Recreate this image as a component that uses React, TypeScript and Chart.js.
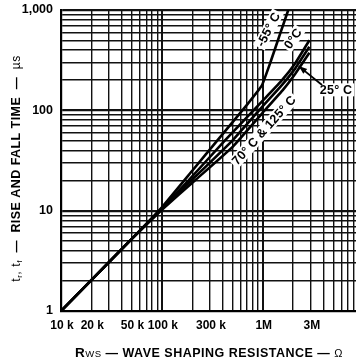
import React, { useEffect, useRef } from 'react';
import { Chart, registerables } from 'chart.js';

Chart.register(...registerables);

// ---- axes ----
const X_MIN = 1e4;
const X_MAX = 8.4e6;
const Y_MIN = 1;
const Y_MAX = 1000;
const X_TICK_VALUES = [1e4, 2e4, 5e4, 1e5, 3e5, 1e6, 3e6];
const X_TICK_LABELS = ['10 k', '20 k', '50 k', '100 k', '300 k', '1M', '3M'];
const Y_TICK_VALUES = [1, 10, 100, 1000];
const Y_TICK_LABELS = ['1', '10', '100', '1,000'];

// ---- series (R in ohms, t in microseconds) ----
const R_M55 = [1e4, 5e4, 1e5, 2e5, 4e5, 7e5, 9.8e5, 1.18e6, 1.49e6, 1.79e6];
const T_M55 = [1, 5.2, 10.8, 25, 58, 114, 177, 293, 584, 1000];

const R_0C = [1e4, 5e4, 1e5, 1.84e5, 4.2e5, 1e6, 1.5e6, 2.1e6, 2.9e6];
const T_0C = [1, 5.2, 10.6, 20, 50, 125, 192, 295, 500];

const R_25C = [1e4, 5e4, 1e5, 2e5, 5e5, 1e6, 1.5e6, 2.1e6, 2.9e6];
const T_25C = [1, 5.2, 10.4, 20.4, 50, 110, 172, 262, 430];

const R_70C = [1e4, 5e4, 1e5, 2.15e5, 5e5, 1e6, 1.6e6, 2.1e6, 2.9e6];
const T_70C = [1, 5.2, 10.2, 20.2, 43, 95, 162, 232, 375];

// ---- curve labels (anchored in data space) ----
const LABEL_TEXTS = ['-55° C', '0°C', '70° C & 125° C', '25° C'];
const LABEL_R = [1.14e6, 2.0e6, 1.03e6, 5.33e6];
const LABEL_T = [640, 520, 63.2, 160];
const LABEL_ANGLES = [-62, -56, -48, 0];
const ARROW_FROM = { r: 3.87e6, t: 179 };
const ARROW_TO = { r: 2.27e6, t: 276 };

function decadeGrid(min: number, max: number): number[] {
  const out: number[] = [];
  for (let e = Math.floor(Math.log10(min)); e <= Math.ceil(Math.log10(max)); e++) {
    for (let m = 1; m <= 9; m++) {
      const v = Math.round(m * Math.pow(10, e) * 1e6) / 1e6;
      if (v >= min - 1e-9 && v <= max + 1e-9) out.push(v);
    }
  }
  return out;
}

const isDecade = (v: number) => Math.abs(Math.log10(v) - Math.round(Math.log10(v))) < 1e-6;

const FONT = '"Liberation Sans", Arial, Helvetica, sans-serif';

const toPts = (r: number[], t: number[]) => r.map((x, i) => ({ x, y: t[i] }));

function drawSegments(ctx: CanvasRenderingContext2D, segs: { t: string; f: string; dy?: number }[], cx: number, cy: number) {
  let total = 0;
  for (const s of segs) {
    ctx.font = s.f;
    total += ctx.measureText(s.t).width;
  }
  let x = cx - total / 2;
  for (const s of segs) {
    ctx.font = s.f;
    ctx.fillText(s.t, x, cy + (s.dy || 0));
    x += ctx.measureText(s.t).width;
  }
}

const annotPlugin = {
  id: 'annot',
  beforeDatasetsDraw(chart: any) {
    const ctx: CanvasRenderingContext2D = chart.ctx;
    const xs = chart.scales.x;
    const ys = chart.scales.y;
    ctx.save();
    (ctx as any).letterSpacing = '0.2px';
    ctx.textAlign = 'center';
    ctx.textBaseline = 'middle';
    for (let i = 0; i < LABEL_TEXTS.length; i++) {
      const px = xs.getPixelForValue(LABEL_R[i]);
      const py = ys.getPixelForValue(LABEL_T[i]);
      ctx.save();
      ctx.translate(px, py);
      ctx.rotate((LABEL_ANGLES[i] * Math.PI) / 180);
      ctx.font = `bold 12.5px ${FONT}`;
      const w = ctx.measureText(LABEL_TEXTS[i]).width;
      ctx.fillStyle = '#fff';
      ctx.fillRect(-w / 2 - 2, -6.5, w + 4, 13);
      ctx.fillStyle = '#000';
      ctx.fillText(LABEL_TEXTS[i], 0, 0.5);
      ctx.restore();
    }
    ctx.restore();
  },
  afterDraw(chart: any) {
    const ctx: CanvasRenderingContext2D = chart.ctx;
    const xs = chart.scales.x;
    const ys = chart.scales.y;
    ctx.save();
    ctx.strokeStyle = '#000';
    ctx.fillStyle = '#000';
    // arrow for 25 C
    const ax0 = xs.getPixelForValue(ARROW_FROM.r);
    const ay0 = ys.getPixelForValue(ARROW_FROM.t);
    const ax1 = xs.getPixelForValue(ARROW_TO.r);
    const ay1 = ys.getPixelForValue(ARROW_TO.t);
    ctx.lineWidth = 1.8;
    ctx.beginPath();
    ctx.moveTo(ax0, ay0);
    ctx.lineTo(ax1, ay1);
    ctx.stroke();
    const ang = Math.atan2(ay1 - ay0, ax1 - ax0);
    ctx.beginPath();
    ctx.moveTo(ax1, ay1);
    ctx.lineTo(ax1 - 9 * Math.cos(ang - 0.35), ay1 - 9 * Math.sin(ang - 0.35));
    ctx.lineTo(ax1 - 9 * Math.cos(ang + 0.35), ay1 - 9 * Math.sin(ang + 0.35));
    ctx.closePath();
    ctx.fill();

    // axis titles
    ctx.textAlign = 'left';
    ctx.textBaseline = 'alphabetic';
    const area = chart.chartArea;
    (ctx as any).letterSpacing = '0.5px';
    drawSegments(
      ctx,
      [
        { t: 'R', f: `bold 13.5px ${FONT}` },
        { t: 'WS', f: `9.5px ${FONT}` },
        { t: ' — WAVE SHAPING RESISTANCE — ', f: `bold 12.5px ${FONT}` },
        { t: 'Ω', f: `11px ${FONT}` },
      ],
      209,
      357,
    );
    ctx.save();
    ctx.translate(20, (area.top + area.bottom) / 2 + 8);
    ctx.rotate(-Math.PI / 2);
    (ctx as any).letterSpacing = '0.45px';
    drawSegments(
      ctx,
      [
        { t: 't', f: `12.5px ${FONT}` },
        { t: 'r', f: `8px ${FONT}`, dy: 2 },
        { t: ', t', f: `12.5px ${FONT}` },
        { t: 'f', f: `8px ${FONT}`, dy: 2 },
        { t: '  —  ', f: `bold 12px ${FONT}` },
        { t: 'RISE AND FALL TIME', f: `bold 12.5px ${FONT}` },
        { t: '  —  ', f: `bold 12px ${FONT}` },
        { t: 'µs', f: `12px ${FONT}` },
      ],
      0,
      0,
    );
    ctx.restore();
    ctx.restore();
  },
};

export default function App() {
  const ref = useRef<HTMLCanvasElement | null>(null);
  useEffect(() => {
    if (!ref.current) return;
    const xGrid = decadeGrid(X_MIN, X_MAX);
    const yGrid = decadeGrid(Y_MIN, Y_MAX);
    const lineDs = (label: string, r: number[], t: number[]) => ({
      label,
      data: toPts(r, t),
      borderColor: '#000',
      borderWidth: 2.6,
      pointRadius: 0,
      tension: 0.1,
      fill: false,
    });
    const chart = new Chart(ref.current, {
      type: 'line',
      data: {
        datasets: [
          lineDs('-55° C', R_M55, T_M55),
          lineDs('0°C', R_0C, T_0C),
          lineDs('25° C', R_25C, T_25C),
          lineDs('70° C & 125° C', R_70C, T_70C),
        ],
      },
      options: {
        responsive: false,
        animation: false,
        devicePixelRatio: 1,
        layout: { padding: { top: 10, right: 0, left: 0, bottom: 0 } },
        plugins: { legend: { display: false }, tooltip: { enabled: false } },
        scales: {
          x: {
            type: 'logarithmic',
            min: X_MIN,
            max: X_MAX,
            afterBuildTicks: (s: any) => {
              s.ticks = xGrid.map((v) => ({ value: v }));
            },
            afterFit: (s: any) => {
              s.height = 51;
              s.paddingLeft = 0;
              s.paddingRight = 0;
              s.paddingTop = 0;
              s.paddingBottom = 0;
            },
            ticks: {
              autoSkip: false,
              maxRotation: 0,
              minRotation: 0,
              padding: 7,
              labelOffset: 1,
              color: '#000',
              font: { family: FONT, size: 12, weight: 'bold' },
              callback: (v: any) => {
                const i = X_TICK_VALUES.findIndex((t) => Math.abs(t - Number(v)) / t < 1e-6);
                return i >= 0 ? X_TICK_LABELS[i] : '';
              },
            },
            grid: {
              drawTicks: false,
              color: '#111',
              lineWidth: (c: any) => (c.tick && isDecade(c.tick.value) ? 2 : 1.4),
            },
            border: { color: '#000', width: 2 },
          },
          y: {
            type: 'logarithmic',
            min: Y_MIN,
            max: Y_MAX,
            afterBuildTicks: (s: any) => {
              s.ticks = yGrid.map((v) => ({ value: v }));
            },
            afterFit: (s: any) => {
              s.width = 61;
              s.paddingLeft = 0;
              s.paddingRight = 0;
              s.paddingTop = 0;
              s.paddingBottom = 0;
            },
            ticks: {
              autoSkip: false,
              padding: 8,
              color: '#000',
              font: { family: FONT, size: 12.5, weight: 'bold' },
              callback: (v: any) => {
                const i = Y_TICK_VALUES.findIndex((t) => Math.abs(t - Number(v)) / t < 1e-6);
                return i >= 0 ? Y_TICK_LABELS[i] : '';
              },
            },
            grid: {
              drawTicks: false,
              color: '#111',
              lineWidth: (c: any) => (c.tick && isDecade(c.tick.value) ? 2.2 : 1.4),
            },
            border: { color: '#000', width: 2.2 },
          },
        },
      } as any,
      plugins: [annotPlugin],
    });
    return () => chart.destroy();
  }, []);
  return (
    <div style={{ position: 'fixed', left: 0, top: 0, width: 356, height: 362, background: '#fff' }}>
      <canvas ref={ref} width={356} height={362} />
    </div>
  );
}
